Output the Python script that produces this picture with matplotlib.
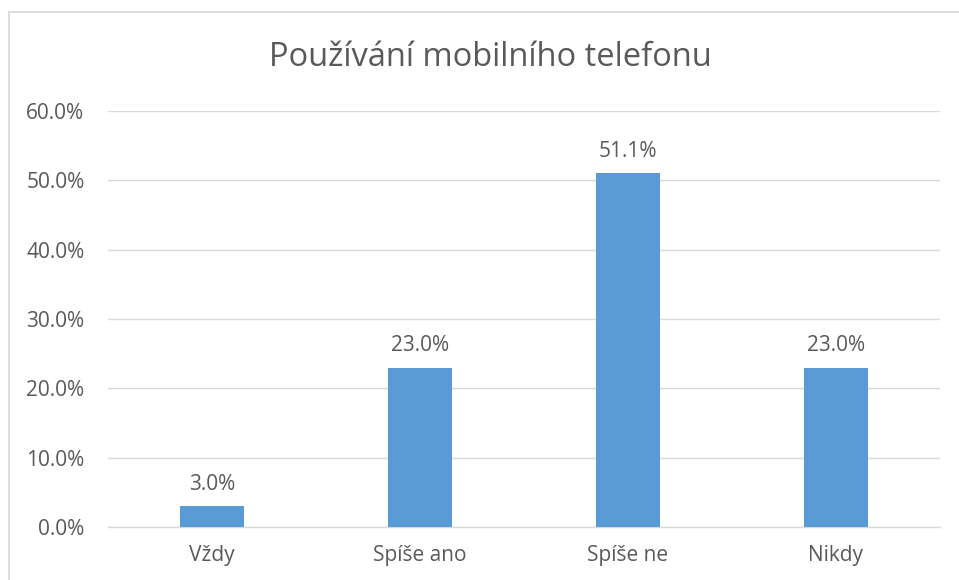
import matplotlib
matplotlib.use("Agg")
import matplotlib.pyplot as plt
from matplotlib.patches import Rectangle
from matplotlib.ticker import FuncFormatter, MultipleLocator

categories = ["Vždy", "Spíše ano", "Spíše ne", "Nikdy"]
values = [3.0, 23.0, 51.1, 23.0]
title = "Používání mobilního telefonu"

plt.rcParams['font.family'] = ['Open Sans', 'DejaVu Sans']
text_color = "#595959"
bar_color = "#5B9BD5"
grid_color = "#D9D9D9"

W, H = 959, 580
fig = plt.figure(figsize=(W/100, H/100), dpi=100)
fig.patch.set_facecolor("white")

# chart border
fig.patches.append(Rectangle((9/W, -0.1), 1.2, 1 - 12/H + 0.1, transform=fig.transFigure,
                             fill=False, edgecolor="#D9D9D9", linewidth=1.3))

ax = fig.add_axes([108/W, 1 - 527/H, (940-108)/W, (527-111)/H])
x = range(len(categories))
bars = ax.bar(x, values, width=0.31, color=bar_color, zorder=3)
ax.set_xlim(-0.5, len(categories) - 0.5)
ax.set_ylim(0, 60)
ax.yaxis.set_major_locator(MultipleLocator(10))
ax.yaxis.set_major_formatter(FuncFormatter(lambda v, p: f"{v:.1f}%"))
ax.grid(axis="y", color=grid_color, linewidth=1.0, zorder=0)
ax.set_axisbelow(True)
for s in ["top", "right", "left"]:
    ax.spines[s].set_visible(False)
ax.spines["bottom"].set_color(grid_color)
ax.spines["bottom"].set_linewidth(1.0)
ax.tick_params(axis="both", length=0, colors=text_color, labelsize=15)
ax.tick_params(axis="y", pad=17)
ax.tick_params(axis="x", pad=13)
ax.set_xticks(list(x))
ax.set_xticklabels(categories)

for xi, v in zip(x, values):
    ax.annotate(f"{v:.1f}%", (xi, v), xytext=(0, 8), textcoords="offset points",
                ha="center", va="bottom", color=text_color, fontsize=15)

fig.text(490/W, 1 - 57/H, title, ha="center", va="center", color=text_color, fontsize=23.5)

fig.savefig("out.png", dpi=100)
